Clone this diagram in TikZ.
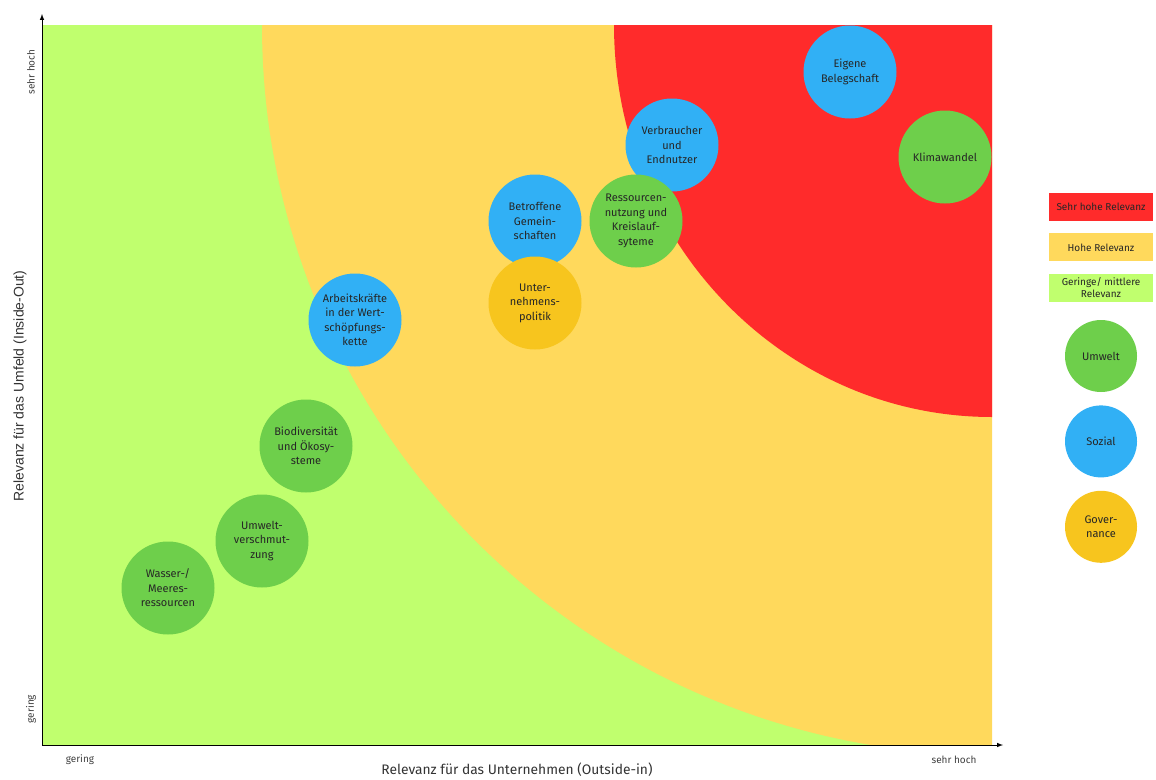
\documentclass[tikz,border=0pt]{standalone}
\usepackage{fontspec}
\setmainfont{Fira Sans}
\newfontfamily\arialfont{Liberation Sans}
\usetikzlibrary{positioning}

\definecolor{lowgreen}{HTML}{C0FF6E}
\definecolor{highyellow}{HTML}{FFD95C}
\definecolor{veryred}{HTML}{FF2B2B}
\definecolor{umweltgreen}{HTML}{6ECF4B}
\definecolor{sozialblue}{HTML}{31B0F5}
\definecolor{govyellow}{HTML}{F7C51E}

\begin{document}
\begin{tikzpicture}
          [x=1pt, y=-1pt,
           topic/.style={circle, minimum size=93pt, inner sep=0pt, align=center,
                         font=\fontsize{11}{14.5}\selectfont, text=black!85},
           umwelt/.style={topic, fill=umweltgreen},
           sozial/.style={topic, fill=sozialblue},
           gov/.style={topic, fill=govyellow},
           legdot/.style={topic, minimum size=72pt},
           legbox/.style={minimum width=104pt, minimum height=28pt, inner sep=0pt,
                          align=center, font=\fontsize{10}{12}\selectfont, text=black!85},
           scale label/.style={font=\fontsize{10}{12}\selectfont, text=black!75},
           axis label/.style={font=\fontsize{13.8}{16}\selectfont, text=black!80}]

          \useasboundingbox (0,0) rectangle (1156,779);

          % background areas
          \coordinate (o) at (42,745);
          \coordinate (tr) at (992,25);
          \fill[lowgreen] (42,25) rectangle (tr |- o);
          \begin{scope}
            \clip (42,25) rectangle (tr |- o);
            \fill[highyellow] (tr) circle[radius=730];
            \fill[veryred] (tr) ellipse[x radius=378, y radius=392];
          \end{scope}

          % axes
          \coordinate (ytop) at (42,14);
          \coordinate (xend) at (1003,745);
          \draw[line width=1pt, -latex] (o) -- (ytop);
          \draw[line width=1pt, -latex] (o) -- (xend);

          \node (yhigh) [scale label, rotate=90] at (31,72) {sehr hoch};
          \node (ylow) [scale label, rotate=90] at (31,709) {gering};
          \node (xlow) [scale label] at (80,760) {gering};
          \node (xhigh) [scale label] at (954,760) {sehr hoch};
          \node (xlabel) [axis label] at (517,770) {Relevanz für das Unternehmen (Outside-in)};
          \node (ylabel) [axis label, font=\arialfont\fontsize{14}{16}\selectfont, rotate=90]
               at (20,386) {Relevanz für das Umfeld (Inside-Out)};

          % topics
          \node (beleg) [sozial] at (850,72) {Eigene\\Belegschaft};
          \node (verbr) [sozial] at (672,145) {Verbraucher\\und\\Endnutzer};
          \node (klima) [umwelt] at (945,157) {Klimawandel};
          \node (gemein) [sozial] at (535,221) {Betroffene\\Gemein-\\schaften};
          \node (kreis) [umwelt] at (636,221) {Ressourcen-\\nutzung und\\Kreislauf-\\syteme};
          \node (politik) [gov] at (535,303) {Unter-\\nehmens-\\politik};
          \node (arbeit) [sozial] at (355,320) {Arbeitskräfte\\in der Wert-\\schöpfungs-\\kette};
          \node (bio) [umwelt] at (306,446) {Biodiversität\\und Ökosy-\\steme};
          \node (versch) [umwelt] at (262,541) {Umwelt-\\verschmut-\\zung};
          \node (wasser) [umwelt] at (168,588) {Wasser-/\\Meeres-\\ressourcen};

          % legend
          \node (lred) [legbox, fill=veryred] at (1101,207) {Sehr hohe Relevanz};
          \node (lyellow) [legbox, fill=highyellow, below = 12pt of lred] {Hohe Relevanz};
          \node (lgreen) [legbox, fill=lowgreen, below = 12pt of lyellow] {Geringe/ mittlere\\Relevanz};
          \node (lumwelt) [legdot, fill=umweltgreen] at (1101,356) {Umwelt};
          \node (lsozial) [legdot, fill=sozialblue, below = 13pt of lumwelt] {Sozial};
          \node (lgov) [legdot, fill=govyellow, below = 13pt of lsozial] {Gover-\\nance};

        \end{tikzpicture}
\end{document}
